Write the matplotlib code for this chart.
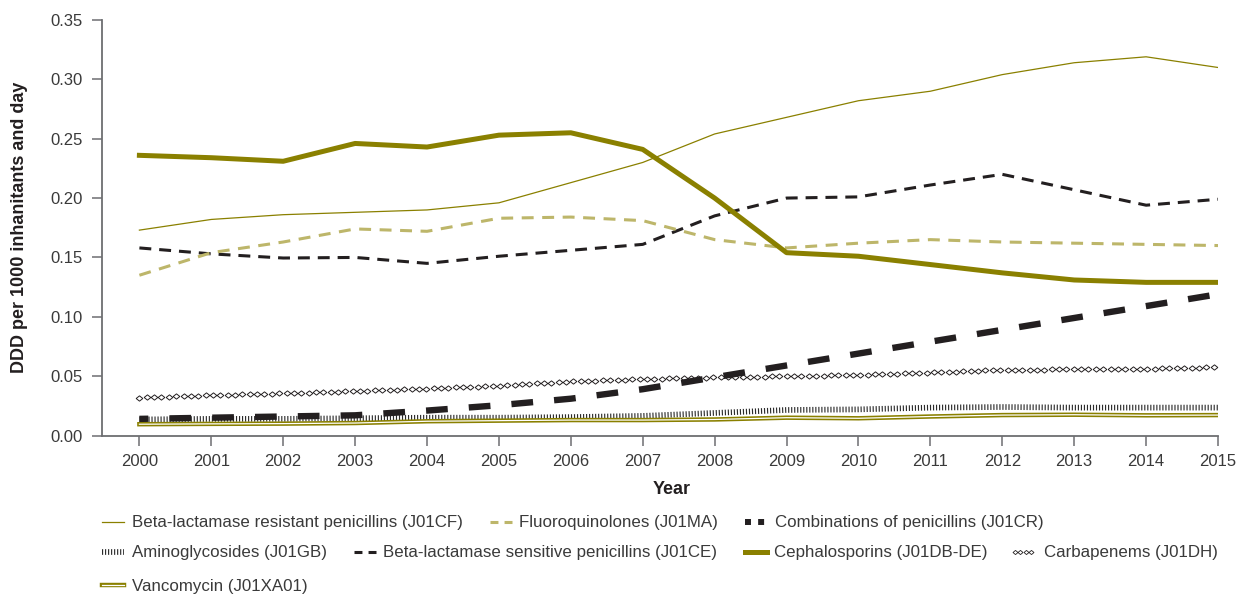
import matplotlib
matplotlib.use("Agg")
import numpy as np
import matplotlib.pyplot as plt
from matplotlib.lines import Line2D
from matplotlib.path import Path
from matplotlib.transforms import Affine2D, IdentityTransform
from matplotlib.colors import to_rgba
import matplotlib.patheffects as pe

# ---- data: DDD per 1000 inhabitants and day ----
years = list(range(2000, 2016))

beta_resistant = [0.173, 0.182, 0.186, 0.188, 0.190, 0.196, 0.213, 0.230,
                  0.254, 0.268, 0.282, 0.290, 0.304, 0.314, 0.319, 0.310]
fluoroquinolones = [0.135, 0.154, 0.163, 0.174, 0.172, 0.183, 0.184, 0.181,
                    0.165, 0.158, 0.162, 0.165, 0.163, 0.162, 0.161, 0.160]
combinations = [0.014, 0.015, 0.016, 0.017, 0.021, 0.0255, 0.031, 0.039,
                0.049, 0.059, 0.069, 0.079, 0.089, 0.099, 0.109, 0.119]
aminoglycosides = [0.0135, 0.014, 0.014, 0.0145, 0.015, 0.015, 0.0155, 0.0165,
                   0.019, 0.0215, 0.022, 0.0235, 0.024, 0.0235, 0.0235, 0.0235]
beta_sensitive = [0.158, 0.153, 0.1495, 0.150, 0.145, 0.151, 0.156, 0.161,
                  0.185, 0.200, 0.201, 0.211, 0.220, 0.207, 0.194, 0.199]
cephalosporins = [0.236, 0.234, 0.231, 0.246, 0.243, 0.253, 0.255, 0.241,
                  0.200, 0.154, 0.151, 0.144, 0.137, 0.131, 0.129, 0.129]
carbapenems = [0.032, 0.034, 0.0355, 0.0375, 0.0395, 0.042, 0.0455, 0.0475,
               0.049, 0.050, 0.051, 0.053, 0.0553, 0.0558, 0.0562, 0.0575]
vancomycin = [0.0095, 0.0098, 0.010, 0.0105, 0.012, 0.0125, 0.013, 0.013,
              0.0135, 0.015, 0.0145, 0.016, 0.0172, 0.0175, 0.017, 0.0172]

labels = [
    "Beta-lactamase resistant penicillins (J01CF)",
    "Fluoroquinolones (J01MA)",
    "Combinations of penicillins (J01CR)",
    "Aminoglycosides (J01GB)",
    "Beta-lactamase sensitive penicillins (J01CE)",
    "Cephalosporins (J01DB-DE)",
    "Carbapenems (J01DH)",
    "Vancomycin (J01XA01)",
]
y_ticks = [0.00, 0.05, 0.10, 0.15, 0.20, 0.25, 0.30, 0.35]


class DiamondChain(pe.AbstractPathEffect):
    """Replace a stroked line by a chain of small open diamonds."""

    def __init__(self, spacing=5.3, half_w=2.4, half_h=1.9,
                 edge="#231f20", face="white", lw=0.7):
        super().__init__()
        self.spacing, self.half_w, self.half_h = spacing, half_w, half_h
        self.edge, self.face, self.lw = edge, face, lw

    def draw_path(self, renderer, gc, tpath, affine, rgbFace=None):
        verts = affine.transform(tpath.vertices)
        if len(verts) < 2:
            return
        seg = np.diff(verts, axis=0)
        cum = np.concatenate([[0.0], np.cumsum(np.hypot(seg[:, 0], seg[:, 1]))])
        step = renderer.points_to_pixels(self.spacing)
        dist = np.arange(0.0, cum[-1] + 1e-9, step)
        pos = np.column_stack([np.interp(dist, cum, verts[:, 0]),
                               np.interp(dist, cum, verts[:, 1])])
        diamond = Path([(0, 1), (1, 0), (0, -1), (-1, 0), (0, 1)], closed=True)
        mtrans = Affine2D().scale(renderer.points_to_pixels(self.half_w),
                                  renderer.points_to_pixels(self.half_h))
        gc0 = renderer.new_gc()
        gc0.copy_properties(gc)
        gc0.set_foreground(self.edge)
        gc0.set_linewidth(self.lw)
        gc0.set_dashes(0, None)
        gc0.set_joinstyle("miter")
        renderer.draw_markers(gc0, diamond, mtrans, Path(pos),
                              IdentityTransform(), to_rgba(self.face))
        gc0.restore()


# ---- styling ----
plt.rcParams["font.family"] = ["Liberation Sans", "DejaVu Sans"]

OLIVE = "#8a8000"
LIGHT_OLIVE = "#bdb66a"
BLACK = "#231f20"
TEXT = "#3a3a3a"
SPINE = "#6d6e71"
TICKS = "#2b2b2b"

W, H = 1239, 597
fig = plt.figure(figsize=(W / 100, H / 100), dpi=100)
left, right, top, bottom = 102, 1218, 20, 435.5
ax = fig.add_axes([left / W, 1 - bottom / H, (right - left) / W, (bottom - top) / H])

# ---- series ----
amino_style = dict(color=TICKS, lw=4.1, linestyle=(0, (0.2, 0.33)),
                   dash_capstyle="butt")
ax.plot(years, aminoglycosides, zorder=2, **amino_style)

van_effects = [pe.Stroke(linewidth=3.2, foreground=OLIVE), pe.Normal()]
ax.plot(years, vancomycin, color="white", lw=0.9, zorder=3,
        path_effects=van_effects)

ax.plot(years, carbapenems, color=BLACK, lw=1, zorder=3,
        path_effects=[DiamondChain()])

ax.plot(years, combinations, color=BLACK, lw=4.6,
        linestyle=(2.0, (3.4, 3.3)), dash_capstyle="butt", zorder=4)

ax.plot(years, beta_sensitive, color=BLACK, lw=2.2,
        linestyle=(0, (3.9, 2.6)), dash_capstyle="butt", zorder=4)

ax.plot(years, fluoroquinolones, color=LIGHT_OLIVE, lw=2.2,
        linestyle=(0, (3.9, 2.8)), dash_capstyle="butt", zorder=4)

ax.plot(years, beta_resistant, color=OLIVE, lw=0.9, zorder=5)
ax.plot(years, cephalosporins, color=OLIVE, lw=3.6, zorder=5)

# ---- axes ----
ax.set_xlim(1999.48, 2015)
ax.set_ylim(0, 0.35)
ax.set_xticks(years)
ax.set_xticklabels([str(y) for y in years])
ax.set_yticks(y_ticks)
ax.set_yticklabels([f"{v:.2f}" for v in y_ticks])
for s in ("top", "right"):
    ax.spines[s].set_visible(False)
for s in ("left", "bottom"):
    ax.spines[s].set_color(SPINE)
    ax.spines[s].set_linewidth(1.3)
ax.tick_params(axis="both", direction="out", length=7, width=1.1,
               color=SPINE, labelcolor=TEXT, labelsize=12)
ax.tick_params(axis="y", pad=7)
ax.tick_params(axis="x", pad=6)

fig.text(20 / W, 1 - 227 / H, "DDD per 1000 inhanitants and day",
         rotation=90, ha="center", va="center", fontsize=13,
         fontweight="bold", color=BLACK)
fig.text(672 / W, 1 - 490 / H, "Year", ha="center", va="center",
         fontsize=13, fontweight="bold", color=BLACK)

# ---- legend (flowing rows) ----
h_res = Line2D([], [], color=OLIVE, lw=0.9)
h_flu = Line2D([], [], color=LIGHT_OLIVE, lw=2.2, linestyle=(0, (2.6, 2.0)),
               dash_capstyle="butt")
h_com = Line2D([], [], color=BLACK, lw=4.3, linestyle=(0, (1.0, 1.2)),
               dash_capstyle="butt")
h_ami = Line2D([], [], **amino_style)
h_sen = Line2D([], [], color=BLACK, lw=2.2, linestyle=(0, (2.6, 2.0)),
               dash_capstyle="butt")
h_cep = Line2D([], [], color=OLIVE, lw=3.6)
h_car = Line2D([], [], color=BLACK, lw=1,
               path_effects=[DiamondChain(spacing=4.0, half_w=1.8, half_h=1.5,
                                          lw=0.6)])
h_van = Line2D([], [], color="white", lw=0.9, path_effects=van_effects)

legend_kw = dict(loc="center left", frameon=False, fontsize=12.2,
                 handlelength=1.3, handletextpad=0.45, columnspacing=1.6,
                 borderpad=0, borderaxespad=0, labelcolor=TEXT)
rows = [
    ([h_res, h_flu, h_com], labels[0:3], 523),
    ([h_ami, h_sen, h_cep, h_car], labels[3:7], 553),
    ([h_van], labels[7:8], 586),
]
for handles, labs, ypix in rows:
    fig.legend(handles, labs, ncol=len(handles),
               bbox_to_anchor=(102 / W, 1 - ypix / H), **legend_kw)

fig.savefig("out.png", dpi=100)
